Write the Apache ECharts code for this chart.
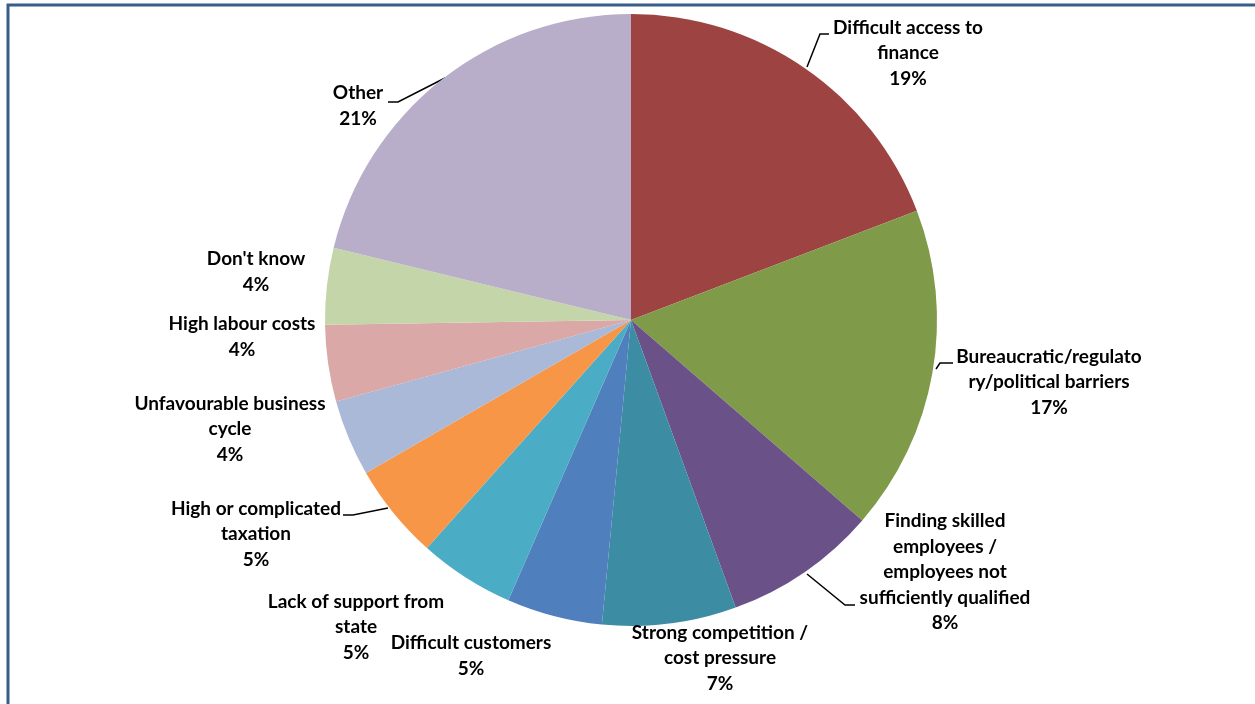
<!DOCTYPE html>
<html>
<head>
<meta charset="utf-8">
<style>
  html, body { margin: 0; padding: 0; background: #fff; }
  #chart { width: 1255px; height: 704px; }
</style>
<script src="https://cdn.jsdelivr.net/npm/echarts@6/dist/echarts.min.js"></script>
</head>
<body>
<div id="chart"></div>
<script>
// Main obstacles for business, share of answers (%)
const categories = [
  'Difficult access to\nfinance',
  'Bureaucratic/regulato\nry/political barriers',
  'Finding skilled\nemployees /\nemployees not\nsufficiently qualified',
  'Strong competition /\ncost pressure',
  'Difficult customers',
  'Lack of support from\nstate',
  'High or complicated\ntaxation',
  'Unfavourable business\ncycle',
  'High labour costs',
  "Don't know",
  'Other'
];
const shares = [19, 17, 8, 7, 5, 5, 5, 4, 4, 4, 21];

const sliceColors = [
  '#9D4341', '#7F9A48', '#6A5187', '#3C8DA3', '#4F7FBD', '#4BACC6',
  '#F79646', '#A9B9D7', '#D9A8A7', '#C4D6A9', '#B8AEC9'
];

// label anchor points (block centre) and leader lines, by slice index
const labelCentres = [
  [908, 53], [1049, 382], [945, 572], [720, 658], [471, 656], [356, 627],
  [256, 534], [230, 429], [242, 337], [256, 272], [358, 106]
];
const leaderLines = {
  0: [[807, 67], [820, 34], [829, 34]],
  1: [[936, 369], [940, 363], [953, 363]],
  2: [[807, 574], [845, 605], [855, 605]],
  6: [[388, 508], [353, 515], [343, 515]],
  10: [[445, 78], [398, 102], [388, 102]]
};

const chart = echarts.init(document.getElementById('chart'));

const data = categories.map((name, i) => ({
  name: name,
  value: shares[i],
  itemStyle: { color: sliceColors[i] },
  labelLine: { show: !!leaderLines[i] }
}));

chart.setOption({
  animation: false,
  backgroundColor: '#ffffff',
  graphic: [{
    type: 'polyline',
    shape: { points: [[8, 710], [8, 5], [1260, 5]] },
    style: { stroke: '#385D8A', lineWidth: 3, fill: null },
    silent: true
  }],
  series: [{
    type: 'pie',
    center: [631, 320],
    radius: 306,
    startAngle: 90,
    clockwise: true,
    data: data,
    itemStyle: { borderWidth: 0 },
    label: {
      show: true,
      position: 'outside',
      formatter: '{b}\n{c}%',
      color: '#000',
      fontFamily: 'Lato, "Liberation Sans", sans-serif',
      fontWeight: 'bold',
      fontSize: 19,
      lineHeight: 25.5,
      align: 'center'
    },
    labelLine: {
      show: true,
      lineStyle: { color: '#000', width: 1.5 },
      smooth: false
    },
    labelLayout: function (params) {
      const c = labelCentres[params.dataIndex];
      const out = {
        x: c[0],
        y: c[1],
        align: 'center',
        verticalAlign: 'middle'
      };
      if (leaderLines[params.dataIndex]) {
        out.labelLinePoints = leaderLines[params.dataIndex];
      }
      return out;
    }
  }]
});
</script>
</body>
</html>
